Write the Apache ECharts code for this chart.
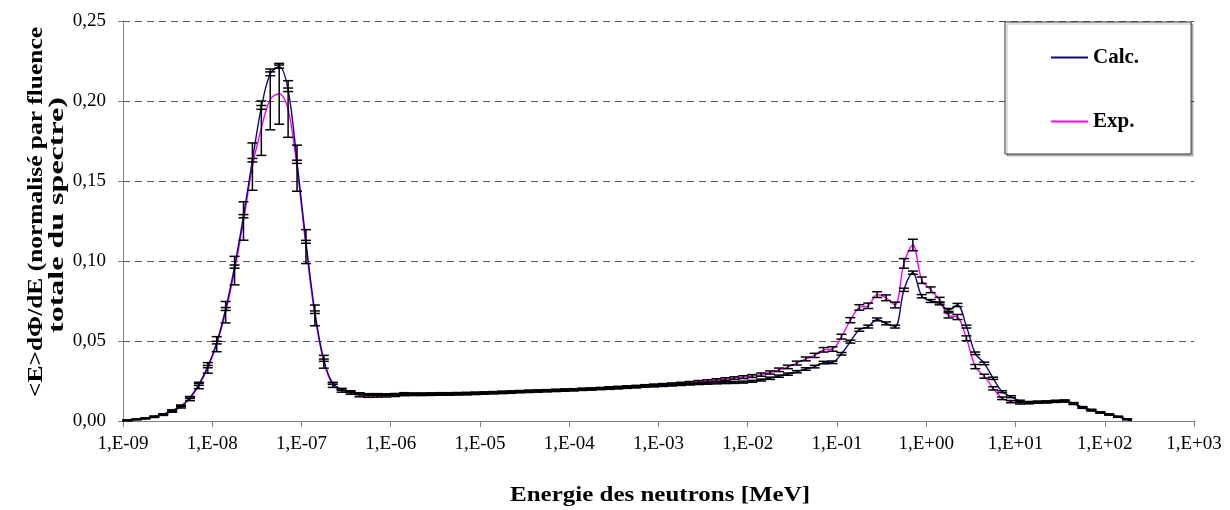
<!DOCTYPE html>
<html>
<head>
<meta charset="utf-8">
<script src="https://cdn.jsdelivr.net/npm/echarts@6/dist/echarts.min.js"></script>
<style>
  html, body { margin: 0; padding: 0; background: #fff; }
  #spectre { width: 1230px; height: 510px; }
</style>
</head>
<body>
<div id="spectre"></div>
<script>
// log10 of the bin energies [MeV]
const logE = [
  -9.00, -8.95, -8.85, -8.75, -8.65, -8.55, -8.45, -8.35, -8.25, -8.15,
  -8.05, -7.95, -7.85, -7.75, -7.65, -7.55, -7.45, -7.35, -7.25, -7.15,
  -7.05, -6.95, -6.85, -6.75, -6.65, -6.55, -6.45, -6.35, -6.25, -6.15,
  -6.05, -5.95, -5.85, -5.75, -5.65, -5.55, -5.45, -5.35, -5.25, -5.15,
  -5.05, -4.95, -4.85, -4.75, -4.65, -4.55, -4.45, -4.35, -4.25, -4.15,
  -4.05, -3.95, -3.85, -3.75, -3.65, -3.55, -3.45, -3.35, -3.25, -3.15,
  -3.05, -2.95, -2.85, -2.75, -2.65, -2.55, -2.45, -2.35, -2.25, -2.15,
  -2.05, -1.95, -1.85, -1.75, -1.65, -1.55, -1.45, -1.35, -1.25, -1.15,
  -1.05, -0.95, -0.85, -0.75, -0.65, -0.55, -0.45, -0.35, -0.25, -0.15,
  -0.05, 0.05, 0.15, 0.25, 0.35, 0.45, 0.55, 0.65, 0.75, 0.85,
  0.95, 1.05, 1.15, 1.25, 1.35, 1.45, 1.55, 1.65, 1.75, 1.85,
  1.95, 2.05, 2.15, 2.25, 2.30
];

const calc = [
  0.0001, 0.0004, 0.0010, 0.0017, 0.0027, 0.0042, 0.0065, 0.0094, 0.0146, 0.0229,
  0.0340, 0.0490, 0.0700, 0.0965, 0.1280, 0.1630, 0.1960, 0.2170, 0.2215, 0.2070,
  0.1620, 0.1120, 0.0680, 0.0380, 0.0235, 0.0198, 0.0183, 0.0170, 0.0165, 0.0165,
  0.0165, 0.0167, 0.0172, 0.0170, 0.0170, 0.0171, 0.0172, 0.0172, 0.0173, 0.0174,
  0.0175, 0.0177, 0.0179, 0.0181, 0.0183, 0.0185, 0.0187, 0.0189, 0.0190, 0.0192,
  0.0194, 0.0196, 0.0198, 0.0200, 0.0203, 0.0205, 0.0208, 0.0211, 0.0214, 0.0217,
  0.0220, 0.0222, 0.0225, 0.0228, 0.0231, 0.0234, 0.0236, 0.0238, 0.0240, 0.0241,
  0.0243, 0.0248, 0.0256, 0.0267, 0.0280, 0.0293, 0.0308, 0.0325, 0.0340, 0.0365,
  0.0367, 0.0420, 0.0496, 0.0570, 0.0590, 0.0635, 0.0610, 0.0590, 0.0820, 0.0927,
  0.0780, 0.0750, 0.0735, 0.0694, 0.0725, 0.0590, 0.0423, 0.0360, 0.0267, 0.0183,
  0.0152, 0.0125, 0.0117, 0.0119, 0.0120, 0.0124, 0.0126, 0.0110, 0.0086, 0.0069,
  0.0054, 0.0041, 0.0027, 0.0011, 0.0000
];

const exp = [
  0.0001, 0.0004, 0.0010, 0.0016, 0.0026, 0.0040, 0.0062, 0.0090, 0.0140, 0.0222,
  0.0332, 0.0480, 0.0680, 0.0940, 0.1250, 0.1590, 0.1830, 0.2010, 0.2045, 0.1950,
  0.1580, 0.1090, 0.0660, 0.0370, 0.0225, 0.0190, 0.0175, 0.0163, 0.0157, 0.0157,
  0.0158, 0.0160, 0.0165, 0.0166, 0.0166, 0.0167, 0.0168, 0.0168, 0.0169, 0.0170,
  0.0172, 0.0174, 0.0176, 0.0178, 0.0180, 0.0183, 0.0185, 0.0187, 0.0189, 0.0191,
  0.0193, 0.0195, 0.0198, 0.0200, 0.0203, 0.0206, 0.0209, 0.0212, 0.0215, 0.0219,
  0.0223, 0.0226, 0.0230, 0.0234, 0.0239, 0.0245, 0.0250, 0.0256, 0.0262, 0.0268,
  0.0274, 0.0281, 0.0290, 0.0303, 0.0320, 0.0338, 0.0362, 0.0388, 0.0410, 0.0445,
  0.0450, 0.0527, 0.0630, 0.0710, 0.0720, 0.0790, 0.0770, 0.0725, 0.0985, 0.1100,
  0.0880, 0.0820, 0.0756, 0.0660, 0.0650, 0.0517, 0.0340, 0.0280, 0.0204, 0.0142,
  0.0121, 0.0112, 0.0113, 0.0117, 0.0119, 0.0122, 0.0124, 0.0108, 0.0084, 0.0067,
  0.0053, 0.0040, 0.0026, 0.0010, 0.0000
];

const calcErr = [
  0, 0.0002, 0.0002, 0.0002, 0.0003, 0.0003, 0.0004, 0.0004, 0.0005, 0.0006,
  0.0007, 0.0008, 0.0009, 0.0010, 0.0010, 0.0011, 0.0012, 0.0012, 0.0010, 0.0011,
  0.0010, 0.0009, 0.0008, 0.0007, 0.0006, 0.0006, 0.0006, 0.0006, 0.0006, 0.0006,
  0.0005, 0.0005, 0.0005, 0.0005, 0.0005, 0.0005, 0.0005, 0.0005, 0.0005, 0.0005,
  0.0005, 0.0005, 0.0005, 0.0005, 0.0005, 0.0005, 0.0005, 0.0005, 0.0005, 0.0005,
  0.0005, 0.0005, 0.0005, 0.0005, 0.0005, 0.0005, 0.0005, 0.0005, 0.0005, 0.0005,
  0.0006, 0.0006, 0.0006, 0.0006, 0.0006, 0.0006, 0.0006, 0.0006, 0.0006, 0.0006,
  0.0006, 0.0006, 0.0006, 0.0007, 0.0007, 0.0007, 0.0007, 0.0008, 0.0008, 0.0008,
  0.0008, 0.0008, 0.0009, 0.0009, 0.0009, 0.0009, 0.0009, 0.0009, 0.0010, 0.0010,
  0.0010, 0.0009, 0.0009, 0.0009, 0.0010, 0.0009, 0.0008, 0.0008, 0.0007, 0.0006,
  0.0006, 0.0005, 0.0005, 0.0005, 0.0005, 0.0005, 0.0005, 0.0005, 0.0004, 0.0004,
  0.0003, 0.0003, 0.0002, 0.0002, 0
];

const expErr = [
  0, 0.0002, 0.0002, 0.0003, 0.0004, 0.0005, 0.0007, 0.0009, 0.0013, 0.0020,
  0.0033, 0.0047, 0.0067, 0.0089, 0.0120, 0.0148, 0.0170, 0.0190, 0.0190, 0.0177,
  0.0144, 0.0106, 0.0065, 0.0040, 0.0015, 0.0010, 0.0008, 0.0012, 0.0009, 0.0008,
  0.0008, 0.0007, 0.0007, 0.0007, 0.0007, 0.0007, 0.0007, 0.0007, 0.0007, 0.0007,
  0.0007, 0.0007, 0.0007, 0.0007, 0.0007, 0.0007, 0.0007, 0.0007, 0.0007, 0.0007,
  0.0007, 0.0007, 0.0007, 0.0007, 0.0007, 0.0008, 0.0008, 0.0008, 0.0008, 0.0008,
  0.0008, 0.0008, 0.0008, 0.0008, 0.0008, 0.0008, 0.0008, 0.0008, 0.0008, 0.0008,
  0.0009, 0.0009, 0.0010, 0.0010, 0.0011, 0.0011, 0.0012, 0.0012, 0.0013, 0.0014,
  0.0014, 0.0015, 0.0016, 0.0017, 0.0017, 0.0018, 0.0018, 0.0018, 0.0030, 0.0036,
  0.0020, 0.0018, 0.0017, 0.0016, 0.0016, 0.0015, 0.0013, 0.0012, 0.0010, 0.0008,
  0.0007, 0.0006, 0.0006, 0.0006, 0.0006, 0.0006, 0.0006, 0.0005, 0.0005, 0.0004,
  0.0004, 0.0003, 0.0003, 0.0002, 0
];

// tick labels, indexed by decade from 1E-09
const xTickLabels = ['1,E-09', '1,E-08', '1,E-07', '1,E-06', '1,E-05', '1,E-04', '1,E-03',
  '1,E-02', '1,E-01', '1,E+00', '1,E+01', '1,E+02', '1,E+03'];
const yTickLabels = ['0,00', '0,05', '0,10', '0,15', '0,20', '0,25'];

const xTitle = 'Energie des neutrons [MeV]';
const yTitle = ['<E>dΦ/dE (normalisé par fluence', 'totale du spectre)'];

(function() {
  const chartDom = document.getElementById('spectre');
  const chart = echarts.init(chartDom);

  const font = '"Liberation Serif", "Times New Roman", serif';
  const axisGrey = '#808080';

  // the source picture has its text stretched; scale titles to the measured lengths
  const ctx = document.createElement('canvas').getContext('2d');
  const stretch = (text, size, target) => {
    ctx.font = 'bold ' + size + 'px ' + font;
    return target / ctx.measureText(text).width;
  };

  const toPoints = (vals) => logE.map((l, i) => [Math.pow(10, l), vals[i]]);
  const toBars = (vals, errs) => logE
    .map((l, i) => [Math.pow(10, l), vals[i] - errs[i], vals[i] + errs[i], errs[i]])
    .filter(d => d[3] > 0);

  const renderBar = (params, api) => {
    const x = api.value(0);
    const lo = api.coord([x, api.value(1)]);
    const hi = api.coord([x, api.value(2)]);
    const hw = 5;
    const style = { stroke: '#000', lineWidth: 1.5 };
    return {
      type: 'group',
      children: [
        { type: 'line', shape: { x1: lo[0], y1: hi[1], x2: lo[0], y2: lo[1] }, style: style },
        { type: 'line', shape: { x1: lo[0] - hw, y1: hi[1], x2: lo[0] + hw, y2: hi[1] }, style: style },
        { type: 'line', shape: { x1: lo[0] - hw, y1: lo[1], x2: lo[0] + hw, y2: lo[1] }, style: style }
      ]
    };
  };

  const titleStyle = (text, size) => ({
    text: text,
    font: 'bold ' + size + 'px ' + font,
    fill: '#000',
    textAlign: 'center',
    textVerticalAlign: 'middle'
  });

  const option = {
    backgroundColor: '#fff',
    animation: false,
    textStyle: { fontFamily: font, color: '#000' },
    grid: { left: 123, right: 36, top: 21, bottom: 89, outerBoundsMode: 'none', containLabel: false },
    legend: {
      orient: 'vertical',
      left: 1005,
      top: 22,
      data: [{ name: 'Calc.', icon: 'rect' }, { name: 'Exp.', icon: 'rect' }],
      itemWidth: 37,
      itemHeight: 2,
      itemGap: 43,
      padding: [25, 52, 22, 46],
      backgroundColor: '#fff',
      borderColor: '#333',
      borderWidth: 1,
      shadowColor: 'rgba(0,0,0,0.25)',
      shadowOffsetX: 2,
      shadowOffsetY: 2,
      textStyle: { fontFamily: font, fontSize: 21, fontWeight: 'bold', color: '#000' }
    },
    graphic: [
      {
        type: 'text', x: 660, y: 496,
        scaleX: stretch(xTitle, 21, 300),
        style: titleStyle(xTitle, 21)
      },
      {
        type: 'text', x: 37, y: 212, rotation: Math.PI / 2,
        scaleX: stretch(yTitle[0], 20, 370),
        style: titleStyle(yTitle[0], 20)
      },
      {
        type: 'text', x: 58, y: 215, rotation: Math.PI / 2,
        scaleX: stretch(yTitle[1], 20, 236),
        style: titleStyle(yTitle[1], 20)
      }
    ],
    xAxis: {
      type: 'log',
      logBase: 10,
      min: 1e-9,
      max: 1e3,
      interval: 1,
      axisLine: { lineStyle: { color: axisGrey, width: 1 } },
      axisTick: { show: true, length: 6, lineStyle: { color: axisGrey } },
      axisLabel: {
        fontFamily: font, fontSize: 19, color: '#000', margin: 14,
        formatter: v => xTickLabels[Math.round(Math.log10(v)) + 9]
      },
      splitLine: { show: false },
      minorTick: { show: false }
    },
    yAxis: {
      type: 'value',
      min: 0,
      max: 0.25,
      interval: 0.05,
      axisLine: { show: true, lineStyle: { color: axisGrey, width: 1 } },
      axisTick: { show: true, length: 5, lineStyle: { color: axisGrey } },
      axisLabel: {
        fontFamily: font, fontSize: 19, color: '#000', margin: 17,
        formatter: v => yTickLabels[Math.round(v / 0.05)]
      },
      splitLine: {
        show: true,
        lineStyle: { color: '#555', type: [7, 5], width: 1 }
      }
    },
    series: [
      {
        name: 'Calc.',
        type: 'line',
        data: toPoints(calc),
        smooth: 0.35,
        symbol: 'none',
        lineStyle: { color: '#0a0a80', width: 1.4 },
        itemStyle: { color: '#0a0a80' },
        z: 3
      },
      {
        name: 'Exp.',
        type: 'line',
        data: toPoints(exp),
        smooth: 0.35,
        symbol: 'none',
        lineStyle: { color: '#ff00ff', width: 1.4 },
        itemStyle: { color: '#ff00ff' },
        z: 2
      },
      {
        name: 'errCalc',
        type: 'custom',
        data: toBars(calc, calcErr),
        encode: { x: 0, y: [1, 2] },
        renderItem: renderBar,
        z: 4
      },
      {
        name: 'errExp',
        type: 'custom',
        data: toBars(exp, expErr),
        encode: { x: 0, y: [1, 2] },
        renderItem: renderBar,
        z: 4
      }
    ]
  };

  chart.setOption(option);
})();
</script>
</body>
</html>
